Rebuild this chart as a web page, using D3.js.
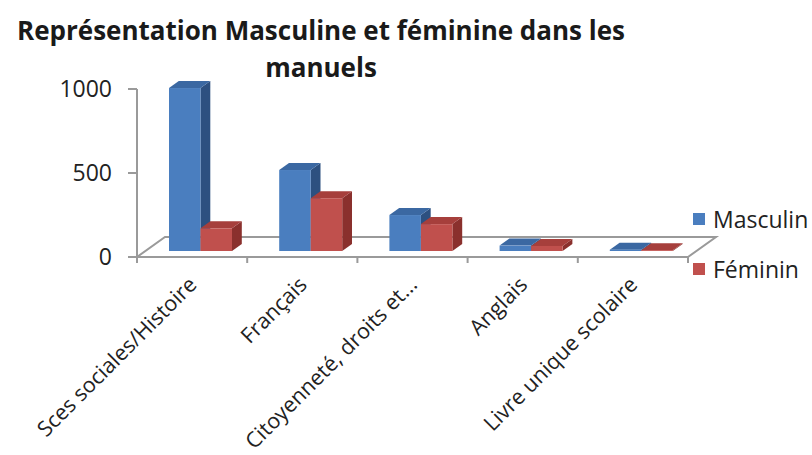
<!DOCTYPE html>
<html>
<head>
<meta charset="utf-8">
<style>
  body { margin: 0; background: #fff; }
  svg text { font-family: "Open Sans", "Noto Sans", sans-serif; fill: #1a1a1a; }
  .title { font-weight: bold; font-size: 26px; }
  .tick-label { font-size: 23px; fill: #222; }
  .cat-label { font-size: 21.5px; fill: #222; }
  .legend text { font-size: 23px; fill: #222; }
</style>
<script src="https://cdn.jsdelivr.net/npm/d3@7"></script>
</head>
<body>
<svg id="chart" width="812" height="455"></svg>
<script>
// data
var categories = ["Sces sociales/Histoire", "Français", "Citoyenneté, droits et...", "Anglais", "Livre unique scolaire"];
var series = ["Masculin", "Féminin"];
var masculin = [970, 482, 214, 32, 8];
var feminin = [135, 314, 160, 30, 5];
var yTicks = [0, 500, 1000];
var titleLines = ["Représentation Masculine et féminine dans les", "manuels"];

var colors = {
  Masculin: { front: "#4a7ebf", side: "#2d5080", top: "#3b68a2" },
  "Féminin": { front: "#c0504d", side: "#8a302d", top: "#a63f3c" }
};

var svg = d3.select("#chart");

var x = d3.scaleBand().domain(categories).range([137, 688]);
var xs = d3.scaleBand().domain(series).range([-31.5, 31.5]);
var y = d3.scaleLinear().domain([0, 1000]).range([257, 89]);

// oblique depth projection: t in [0,1] from front to back of the floor
var depthX = d3.scaleLinear().domain([0, 1]).range([0, 28]);
var depthY = d3.scaleLinear().domain([0, 1]).range([0, -20]);
var barFront = 0.3, barBack = 0.65;

var axisColor = "#9a9a9a";

// floor
var x0 = x.range()[0], x1 = x.range()[1];
svg.append("path")
  .attr("d", "M" + x0 + "," + y(0) +
    "L" + (x0 + depthX(1)) + "," + (y(0) + depthY(1)) +
    "L" + (x1 + depthX(1)) + "," + (y(0) + depthY(1)) +
    "L" + x1 + "," + y(0))
  .attr("fill", "none")
  .attr("stroke", axisColor)
  .attr("stroke-width", 2);

// bars
var g = svg.append("g");
categories.forEach(function(c, i) {
  [["Masculin", masculin[i]], ["Féminin", feminin[i]]].forEach(function(s) {
    var name = s[0], v = s[1];
    var col = colors[name];
    var fx = x(c) + x.bandwidth() / 2 + xs(name) + depthX(barFront);
    var w = xs.bandwidth();
    var by = y(0) + depthY(barFront);
    var ty = y(v) + depthY(barFront);
    var ddx = depthX(barBack) - depthX(barFront);
    var ddy = depthY(barBack) - depthY(barFront);
    // side
    g.append("path")
      .attr("d", "M" + (fx + w) + "," + by + "L" + (fx + w + ddx) + "," + (by + ddy) +
        "L" + (fx + w + ddx) + "," + (ty + ddy) + "L" + (fx + w) + "," + ty + "Z")
      .attr("fill", col.side);
    // top
    g.append("path")
      .attr("d", "M" + fx + "," + ty + "L" + (fx + ddx) + "," + (ty + ddy) +
        "L" + (fx + w + ddx) + "," + (ty + ddy) + "L" + (fx + w) + "," + ty + "Z")
      .attr("fill", col.top);
    // front
    g.append("rect")
      .attr("x", fx).attr("y", ty)
      .attr("width", w).attr("height", Math.max(0, by - ty))
      .attr("fill", col.front);
  });
});

// front axis line and ticks
svg.append("line")
  .attr("x1", x0).attr("x2", x1).attr("y1", y(0)).attr("y2", y(0))
  .attr("stroke", axisColor).attr("stroke-width", 2);
var bounds = categories.map(function(c) { return x(c); }).concat([x1]);
svg.selectAll(".xtick").data(bounds).enter().append("line")
  .attr("x1", function(d) { return d; }).attr("x2", function(d) { return d; })
  .attr("y1", y(0)).attr("y2", y(0) + 6)
  .attr("stroke", axisColor).attr("stroke-width", 2);

// vertical axis
var yAxis = svg.append("g");
yAxis.append("line")
  .attr("x1", x0).attr("x2", x0).attr("y1", y(0) + 6).attr("y2", y(1000))
  .attr("stroke", axisColor).attr("stroke-width", 2);
yAxis.selectAll(".ytick").data(yTicks).enter().append("line")
  .attr("x1", x0 - 9).attr("x2", x0)
  .attr("y1", function(d) { return y(d); }).attr("y2", function(d) { return y(d); })
  .attr("stroke", axisColor).attr("stroke-width", 2);
yAxis.selectAll(".tick-label").data(yTicks).enter().append("text")
  .attr("class", "tick-label")
  .attr("x", x0 - 25)
  .attr("y", function(d) { return y(d); })
  .attr("dy", "0.36em")
  .attr("text-anchor", "end")
  .text(function(d) { return d; });

// category labels
svg.selectAll(".cat-label").data(categories).enter().append("text")
  .attr("class", "cat-label")
  .attr("text-anchor", "end")
  .attr("transform", function(d) {
    return "translate(" + (x(d) + x.bandwidth() / 2 + 6) + "," + (y(0) + 29) + ") rotate(-45)";
  })
  .text(function(d) { return d; });

// title
svg.selectAll(".title").data(titleLines).enter().append("text")
  .attr("class", "title")
  .attr("x", 321)
  .attr("y", function(d, i) { return 40 + i * 37; })
  .attr("text-anchor", "middle")
  .text(function(d) { return d; });

// legend
var legend = svg.append("g").attr("class", "legend");
series.forEach(function(s, i) {
  legend.append("rect")
    .attr("x", 693).attr("y", 213 + i * 50)
    .attr("width", 12).attr("height", 12)
    .attr("fill", colors[s].front);
  legend.append("text")
    .attr("x", 713).attr("y", 228 + i * 50)
    .text(s);
});
</script>
</body>
</html>
